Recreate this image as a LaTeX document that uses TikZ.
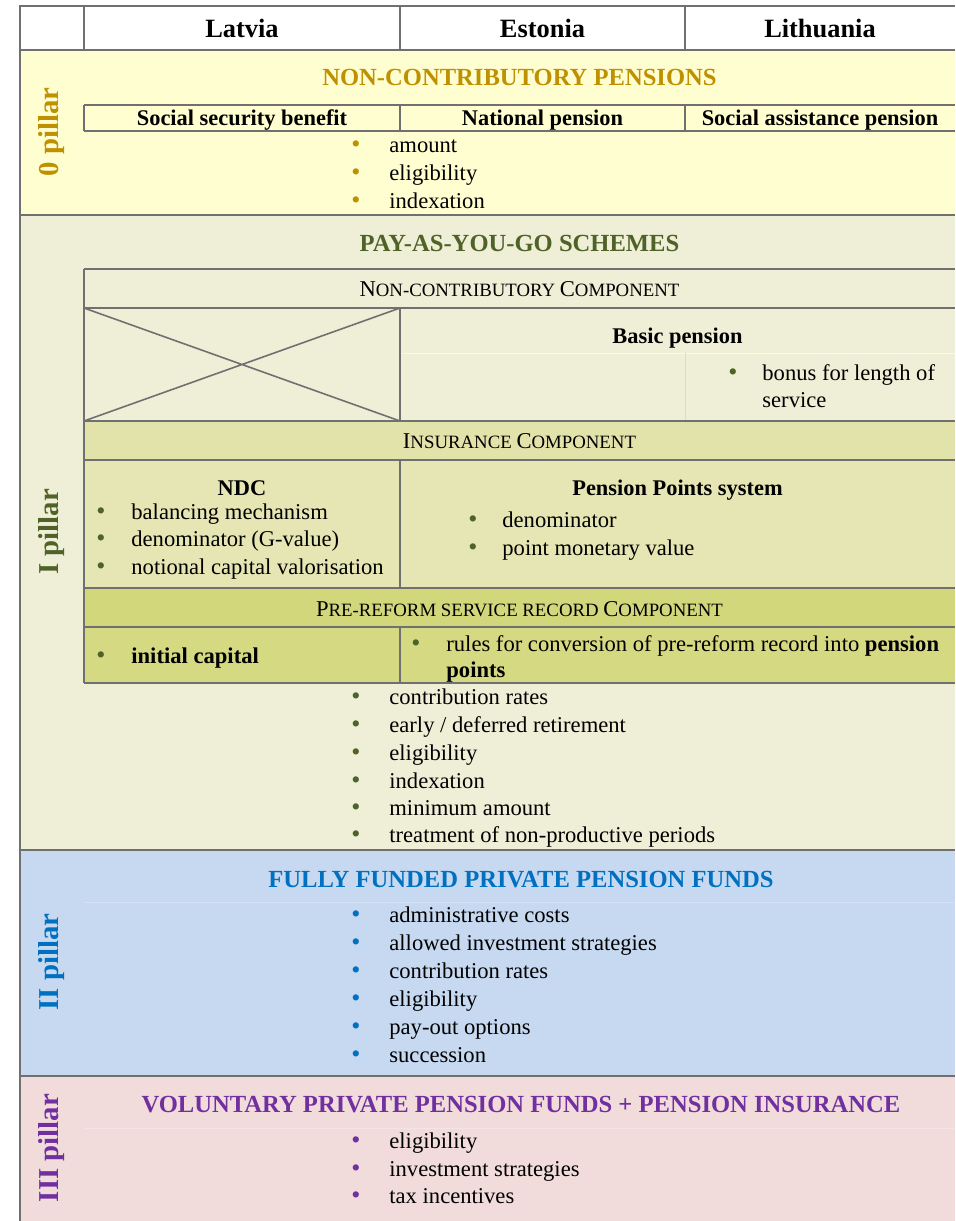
\documentclass[tikz,border=0pt]{standalone}
\usepackage{fontspec}
\setmainfont{Liberation Serif}
\definecolor{bgzero}{HTML}{FFFED0}
\definecolor{bgone}{HTML}{EFEFD7}
\definecolor{insh}{HTML}{E2E3AA}
\definecolor{insr}{HTML}{E5E6B3}
\definecolor{preh}{HTML}{D3D77C}
\definecolor{prer}{HTML}{D5D982}
\definecolor{bgtwo}{HTML}{C6D9F1}
\definecolor{bgthree}{HTML}{F1DBDB}
\definecolor{czero}{HTML}{BF9000}
\definecolor{cone}{HTML}{4F6228}
\definecolor{ctwo}{HTML}{0070C0}
\definecolor{cthree}{HTML}{7030A0}
\definecolor{gridc}{HTML}{707070}
\newcommand\fbody{\fontsize{11.3}{14}\selectfont}
\newcommand\fbul{\fontsize{13}{14}\selectfont}
\newcommand\fbold{\fontsize{11.2}{14}\selectfont\bfseries}
\newcommand\ftitle{\fontsize{12.3}{14}\selectfont\bfseries}
\newcommand\fhead{\fontsize{13.2}{15}\selectfont\bfseries}
\newcommand\fpil{\fontsize{14.4}{16}\selectfont\bfseries}
\newcommand\fsc[2]{{\fontsize{11.3}{14}\selectfont #1}{\fontsize{9.4}{14}\selectfont #2}}
\tikzset{
  txt/.style={anchor=base west, inner sep=0pt, font=\fbody},
  ctr/.style={anchor=base, inner sep=0pt},
  bul/.style={anchor=base, inner sep=0pt, font=\fbul},
  grid/.style={draw=gridc, line width=0.8pt},
  pil/.style={rotate=90, inner sep=0pt, font=\fpil},
}
\newcommand\bitem[6]{%
  \node[bul,text=#5] (#1b) at (#2,#4) {•};
  \node[txt] (#1) at (#3,#4) {#6};}
\begin{document}
\begin{tikzpicture}[x=0.5pt,y=-0.5pt]
\useasboundingbox (0,0) rectangle (955,1221);
% fills
\fill[white] (0,0) rectangle (955,1221);
\fill[bgzero] (20,50) rectangle (955,215);
\fill[bgone] (20,215) rectangle (955,850);
\fill[insh] (84,421) rectangle (955,460);
\fill[insr] (84,460) rectangle (955,588);
\fill[preh] (84,588) rectangle (955,627);
\fill[prer] (84,627) rectangle (955,683);
\fill[bgtwo] (20,850) rectangle (955,1076);
\fill[bgthree] (20,1076) rectangle (955,1221);
% faint lines
\draw[white!60!bgone, line width=0.5pt] (400,353) -- (955,353);
\draw[gray!30, line width=0.4pt] (685,353) -- (685,421);
\draw[white!25!bgtwo, line width=0.4pt] (84,902) -- (955,902);
\draw[white!25!bgthree, line width=0.4pt] (84,1128) -- (955,1128);
% grid
\draw[grid] (20,1221) -- (20,6) -- (955,6);
\draw[grid] (20,50) -- (955,50);
\draw[grid] (84,6) -- (84,50) (400,6) -- (400,50) (685,6) -- (685,50);
\draw[grid] (84,105) -- (955,105) (84,131) -- (955,131)
  (84,105) -- (84,131) (400,105) -- (400,131) (685,105) -- (685,131);
\draw[grid] (20,215) -- (955,215);
\draw[grid] (84,269) -- (955,269) (84,308) -- (955,308) (84,269) -- (84,683)
  (400,308) -- (400,421);
\draw[grid] (84,308) -- (400,421) (84,421) -- (400,308);
\draw[grid] (84,421) -- (955,421) (84,460) -- (955,460) (400,460) -- (400,588)
  (84,588) -- (955,588) (84,627) -- (955,627) (400,627) -- (400,683)
  (84,683) -- (955,683);
\draw[grid] (20,850) -- (955,850) (20,1076) -- (955,1076);
% header
\node[ctr,font=\fhead] (hlat) at (242,37) {Latvia};
\node[ctr,font=\fhead] (hest) at (542.5,37) {Estonia};
\node[ctr,font=\fhead] (hlit) at (820,37) {Lithuania};
% pillar labels
\node[pil,text=czero] (p0) at (52,132) {0 pillar};
\node[pil,text=cone] (p1) at (52,532) {I pillar};
\node[pil,text=ctwo] (p2) at (52,962) {II pillar};
\node[pil,text=cthree] (p3) at (52,1148) {III pillar};
% 0 pillar
\node[ctr,font=\ftitle,text=czero] (t0) at (519.5,85) {NON-CONTRIBUTORY PENSIONS};
\node[ctr,font=\fbold] (ssb) at (242,125) {Social security benefit};
\node[ctr,font=\fbold] (np) at (542.5,125) {National pension};
\node[ctr,font=\fbold] (sap) at (820,125) {Social assistance pension};
\bitem{za}{356}{389}{152}{czero}{amount}
\bitem{zb}{356}{389}{180}{czero}{eligibility}
\bitem{zc}{356}{389}{208}{czero}{indexation}
% I pillar
\node[ctr,font=\ftitle,text=cone] (t1) at (519.5,251) {PAY-AS-YOU-GO SCHEMES};
\node[ctr] (ncc) at (519.5,296) {\fsc{N}{ON-CONTRIBUTORY }\fsc{C}{OMPONENT}};
\node[ctr,font=\fbold] (bp) at (677.5,343) {Basic pension};
\bitem{bon}{733}{762}{380}{cone}{bonus for length of}
\node[txt] (serv) at (762,407) {service};
\node[ctr] (insc) at (519.5,448) {\fsc{I}{NSURANCE }\fsc{C}{OMPONENT}};
\node[ctr,font=\fbold] (ndc) at (242,495) {NDC};
\node[ctr,font=\fbold] (pps) at (677.5,495) {Pension Points system};
\bitem{na}{101}{131}{519}{cone}{balancing mechanism}
\bitem{nb}{101}{131}{546}{cone}{denominator (G-value)}
\bitem{nc}{101}{131}{574}{cone}{notional capital valorisation}
\bitem{pa}{473}{502}{527}{cone}{denominator}
\bitem{pb}{473}{502}{555}{cone}{point monetary value}
\node[ctr] (prc) at (519.5,616) {\fsc{P}{RE-REFORM SERVICE RECORD }\fsc{C}{OMPONENT}};
\bitem{ic}{101}{131}{663}{cone}{\textbf{initial capital}}
\bitem{ru}{416}{446}{651}{cone}{rules for conversion of pre-reform record into \textbf{pension}}
\node[txt] (pts) at (446,677) {\textbf{points}};
\bitem{oa}{356}{389}{704}{cone}{contribution rates}
\bitem{ob}{356}{389}{732}{cone}{early / deferred retirement}
\bitem{oc}{356}{389}{760}{cone}{eligibility}
\bitem{od}{356}{389}{788}{cone}{indexation}
\bitem{oe}{356}{389}{815}{cone}{minimum amount}
\bitem{of}{356}{389}{842}{cone}{treatment of non-productive periods}
% II pillar
\node[ctr,font=\ftitle,text=ctwo] (t2) at (521,887) {FULLY FUNDED PRIVATE PENSION FUNDS};
\bitem{ta}{356}{389}{922}{ctwo}{administrative costs}
\bitem{tb}{356}{389}{950}{ctwo}{allowed investment strategies}
\bitem{tc}{356}{389}{978}{ctwo}{contribution rates}
\bitem{td}{356}{389}{1006}{ctwo}{eligibility}
\bitem{te}{356}{389}{1034}{ctwo}{pay-out options}
\bitem{tf}{356}{389}{1062}{ctwo}{succession}
% III pillar
\node[ctr,font=\ftitle,text=cthree] (t3) at (521,1112) {VOLUNTARY PRIVATE PENSION FUNDS + PENSION INSURANCE};
\bitem{ha}{356}{389}{1148}{cthree}{eligibility}
\bitem{hb}{356}{389}{1176}{cthree}{investment strategies}
\bitem{hc}{356}{389}{1203}{cthree}{tax incentives}
\end{tikzpicture}
\end{document}
